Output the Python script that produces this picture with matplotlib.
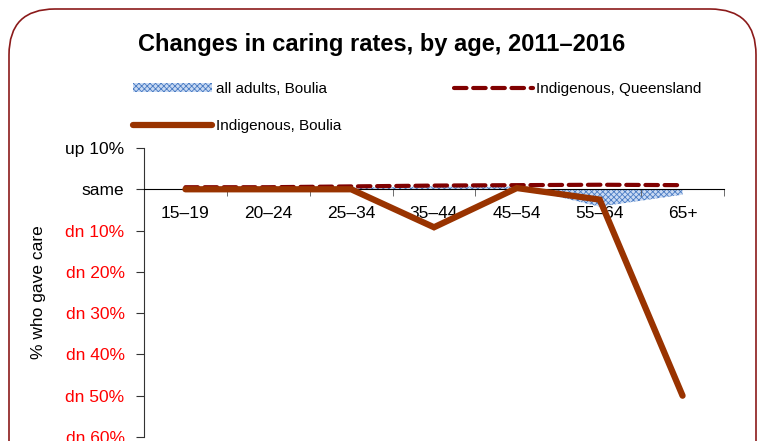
import numpy as np
import matplotlib
matplotlib.use("Agg")
import matplotlib.pyplot as plt
from matplotlib.patches import FancyBboxPatch, Patch
from matplotlib.lines import Line2D

plt.rcParams['font.family'] = ['Liberation Sans', 'DejaVu Sans']
plt.rcParams['hatch.linewidth'] = 0.6

# --- data (percentage point change in caring rate, 2011 -> 2016) ---
age_groups = ['15–19', '20–24', '25–34', '35–44', '45–54', '55–64', '65+']
all_adults_boulia = [0.3, 0.2, 0.4, 0.7, 0.6, -4.2, -1.3]
indig_queensland = [0.5, 0.5, 0.7, 0.9, 1.0, 1.1, 1.0]
indig_boulia = [0.0, 0.0, 0.0, -9.2, 0.3, -2.5, -50.0]

y_ticks = [10, 0, -10, -20, -30, -40, -50, -60]
y_labels = ['up 10%', 'same', 'dn 10%', 'dn 20%', 'dn 30%', 'dn 40%', 'dn 50%', 'dn 60%']
y_colors = ['black', 'black', 'red', 'red', 'red', 'red', 'red', 'red']

W, H = 763, 441
fig = plt.figure(figsize=(W / 100, H / 100), dpi=100, facecolor='white')

# rounded frame (bottom runs off the canvas)
frame = FancyBboxPatch((9 / W, -0.2), (756 - 9) / W, (H - 9) / H + 0.2,
                       boxstyle="round,pad=0,rounding_size=0.06",
                       transform=fig.transFigure, fill=False,
                       edgecolor='#8b1a1a', linewidth=1.2, mutation_aspect=W / H)
fig.patches.append(frame)

ax = fig.add_axes([144 / W, 1 - 437 / H, (724 - 144) / W, (437 - 148) / H])
x = np.arange(len(age_groups))

ax.fill_between(x, 0, all_adults_boulia, facecolor='#c9daf3', edgecolor='#4a7cc4',
                hatch='xxxxxx', linewidth=0, zorder=1)
ax.plot(x, indig_queensland, color='#800000', lw=3, dashes=(3, 1.6),
        dash_capstyle='round', zorder=3)
ax.plot(x, indig_boulia, color='#993300', lw=4.5, solid_capstyle='round',
        solid_joinstyle='miter', zorder=4)

ax.set_xlim(-0.5, len(age_groups) - 0.5)
ax.set_ylim(-60, 10)

for s in ['top', 'right']:
    ax.spines[s].set_visible(False)
ax.spines['bottom'].set_position(('data', 0))
ax.spines['bottom'].set_color('black')
ax.spines['left'].set_color('#333333')

ax.set_xticks(x)
ax.set_xticklabels(age_groups, fontsize=12.5)
ax.tick_params(axis='x', which='major', length=0, pad=12)
ax.set_xticks(np.arange(-0.5, len(age_groups) + 0.5, 1), minor=True)
ax.tick_params(axis='x', which='minor', length=5, direction='out', color='#555555')

ax.set_yticks(y_ticks)
ax.set_yticklabels(y_labels, fontsize=12.5)
for lab, c in zip(ax.get_yticklabels(), y_colors):
    lab.set_color(c)
ax.tick_params(axis='y', length=6, direction='out', pad=8, color='#333333')
ax.set_ylabel('% who gave care', fontsize=12.5, labelpad=14)

fig.text(0.5, 1 - 45 / H, 'Changes in caring rates, by age, 2011–2016',
         ha='center', va='center', fontsize=17, fontweight='bold')

handles = [Patch(facecolor='#c9daf3', edgecolor='#4a7cc4', hatch='xxxxxx', linewidth=0),
           Line2D([], [], color='#993300', lw=4.5, solid_capstyle='round'),
           Line2D([], [], color='#800000', lw=3, dashes=(3, 1.6), dash_capstyle='round')]
labels = ['all adults, Boulia', 'Indigenous, Boulia', 'Indigenous, Queensland']
fig.legend(handles, labels, loc='upper left', bbox_to_anchor=(133 / W, 1 - 82 / H),
           ncol=2, frameon=False, fontsize=11, handlelength=5.2, handleheight=0.6,
           handletextpad=0.2, columnspacing=7.4, labelspacing=1.5,
           borderaxespad=0, borderpad=0)

fig.savefig('out.png', dpi=100, facecolor='white')
